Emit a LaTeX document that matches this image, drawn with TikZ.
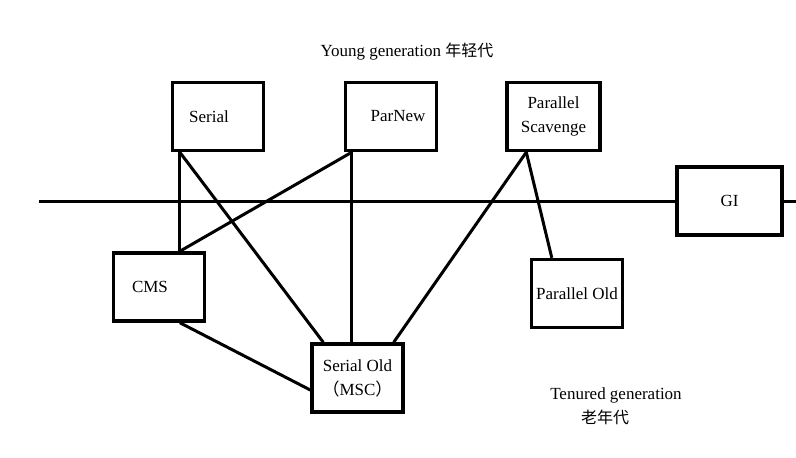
\documentclass[tikz,border=0pt]{standalone}
\usepackage{fontspec}
\setmainfont{Liberation Serif}
\newfontfamily\cjk{Noto Sans CJK SC}
\usepackage{tikz}
\tikzset{
  gcbox/.style={rectangle, draw, line width=3.4pt, minimum width=91pt, minimum height=68pt, inner sep=2pt, align=center},
  gcline/.style={line width=3pt}
}
\newcommand{\gcbox}[4][] {\node at (#2) (#3) [gcbox, #1] {#4};}
\newcommand{\gcline}[2] {\draw [gcline] (#1) -- (#2);}

\begin{document}
\begin{tikzpicture}[x=1pt, y=-1pt, font=\fontsize{17}{24}\selectfont]
\useasboundingbox (0,0) rectangle (796,458);

\gcbox {218,116.5}{serial}{Serial\hspace*{18pt}};
\gcbox {391,116.5}{parnew}{\hspace*{14pt}ParNew};
\gcbox [minimum width=93pt]{553.5,116.5}{scavenge}{Parallel\\Scavenge};
\gcbox [minimum width=105pt]{729.5,201}{gi}{GI};
\gcbox {159,287}{cms}{CMS\hspace*{18pt}};
\gcbox {357.5,378}{serialold}{Serial Old\\{\cjk （}MSC{\cjk ）}};
\gcbox {577,293.5}{parold}{Parallel Old};

\node at (407,52) (young) {Young generation {\cjk\fontsize{16}{24}\selectfont 年轻代}};
\node at (616,406) (tenured) [align=center] {Tenured generation\\{\cjk\fontsize{16}{24}\selectfont 老年代}\hspace*{22pt}};

\coordinate (lineL) at (39,201);
\coordinate (lineR) at (796,201);
\gcline{lineL}{gi.west};
\gcline{gi.east}{lineR};

\gcline{[xshift=9pt]serial.south west}{[xshift=68pt]cms.north west};
\gcline{[xshift=9pt]serial.south west}{[xshift=13pt]serialold.north west};
\gcline{[xshift=8pt]parnew.south west}{[xshift=68pt]cms.north west};
\gcline{[xshift=8pt]parnew.south west}{[xshift=41.5pt]serialold.north west};
\gcline{[xshift=21pt]scavenge.south west}{[xshift=-11pt]serialold.north east};
\gcline{[xshift=21pt]scavenge.south west}{[xshift=22pt]parold.north west};
\gcline{[xshift=68pt]cms.south west}{[yshift=-12pt]serialold.west};

\end{tikzpicture}
\end{document}
